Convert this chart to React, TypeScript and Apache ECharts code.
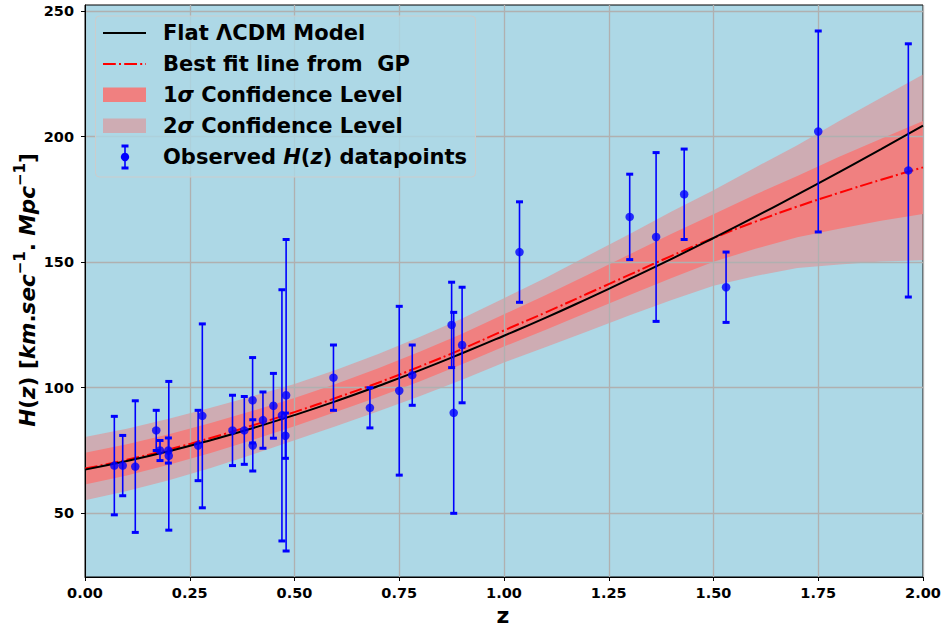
import React, { useEffect, useRef } from "react";
import * as echarts from "echarts";

// Observed H(z) datapoints: redshift, H(z), 1-sigma error
const obsZ = [0.07, 0.09, 0.12, 0.17, 0.179, 0.199, 0.2, 0.27, 0.28, 0.352, 0.3802, 0.4, 0.4004, 0.4247, 0.4497, 0.47, 0.4783, 0.48, 0.593, 0.68, 0.75, 0.781, 0.875, 0.88, 0.9, 1.037, 1.3, 1.363, 1.43, 1.53, 1.75, 1.965];
const obsH = [69, 69, 68.6, 83, 75, 75, 72.9, 77, 88.8, 83, 83, 95, 77, 87.1, 92.8, 89, 80.9, 97, 104, 92, 98.8, 105, 125, 90, 117, 154, 168, 160, 177, 140, 202, 186.5];
const obsErr = [19.6, 12, 26.2, 8, 4, 5, 29.6, 14, 36.6, 14, 13.5, 17, 10.2, 11.2, 12.9, 50, 9, 62, 13, 8, 33.6, 12, 17, 40, 23, 20, 17, 33.6, 18, 14, 40, 50.4];

// Curve sample grid (redshift)
const zGrid = [0, 0.1, 0.2, 0.3, 0.4, 0.5, 0.6, 0.7, 0.8, 0.9, 1.0, 1.1, 1.2, 1.3, 1.4, 1.5, 1.6, 1.7, 1.8, 1.9, 2.0];
// Flat LCDM model
const lcdmH = [67.4, 70.8, 74.7, 79.1, 83.9, 89.1, 94.7, 100.7, 107.0, 113.7, 120.7, 127.9, 135.5, 143.3, 151.3, 159.6, 168.1, 176.9, 185.8, 195.0, 204.3];
// GP best fit mean and 1-sigma width
const gpMean = [67.8, 71.3, 75.4, 80.0, 85.0, 90.3, 96.0, 102.0, 108.5, 115.4, 122.8, 130.0, 137.5, 145.0, 152.5, 159.6, 166.1, 172.1, 177.6, 182.8, 187.7];
const gpSigma = [6.3, 6.2, 6.1, 6.0, 5.8, 5.6, 5.6, 5.7, 5.9, 6.1, 6.4, 6.9, 7.5, 8.1, 8.8, 9.5, 10.8, 12.2, 14.3, 16.3, 18.5];

const xTicks = [0, 0.25, 0.5, 0.75, 1.0, 1.25, 1.5, 1.75, 2.0];
const yTicks = [50, 100, 150, 200, 250];

const FAM = "'DejaVu Sans'";
const BOLD_L = `bold 21px ${FAM}`;
const BOLDIT_L = `italic bold 21px ${FAM}`;

export default function App() {
  const ref = useRef<HTMLDivElement>(null);
  useEffect(() => {
    if (!ref.current) return;
    const chart = echarts.init(ref.current, null, { renderer: "svg" });

    const gpLine = zGrid.map((z, i) => [z, gpMean[i]]);
    const lcdmLine = zGrid.map((z, i) => [z, lcdmH[i]]);
    const obs = obsZ.map((z, i) => [z, obsH[i], obsErr[i]]);
    const pts = obsZ.map((z, i) => [z, obsH[i]]);

    const bandPoly = (api: any, k: number) => {
      const up = zGrid.map((z, i) => api.coord([z, gpMean[i] + k * gpSigma[i]]));
      const dn = zGrid.map((z, i) => api.coord([z, gpMean[i] - k * gpSigma[i]])).reverse();
      return up.concat(dn);
    };

    const rich = {
      n: { font: BOLD_L },
      i: { font: BOLDIT_L },
    };
    const legX = 163;
    const rows = [33, 64, 95, 126, 157];
    const legText = (text: string, y: number) => ({
      type: "text", x: legX, y, z: 101,
      style: { text, font: BOLD_L, fill: "#000", verticalAlign: "middle", rich },
    });

    const option: any = {
      animation: false,
      grid: {
        left: 85, right: 23, top: 5, bottom: 54,
        show: true, backgroundColor: "#add8e6", borderColor: "#000", borderWidth: 1,
      },
      xAxis: {
        type: "value", min: 0, max: 2, z: 3,
        axisLine: { show: true, onZero: false, lineStyle: { color: "#000", width: 1 } },
        axisTick: { show: true, length: 4, lineStyle: { color: "#000" }, customValues: xTicks },
        axisLabel: {
          customValues: xTicks, margin: 8, color: "#000", fontFamily: "DejaVu Sans", fontWeight: "bold", fontSize: 14.5,
          formatter: (v: number) => v.toFixed(2),
        },
        splitLine: { show: true, lineStyle: { color: "#b0b0b0", width: 1.3 } },
      },
      yAxis: {
        type: "value", min: 24.65, max: 252.35, z: 3,
        axisLine: { show: true, onZero: false, lineStyle: { color: "#000", width: 1 } },
        axisTick: { show: true, length: 4, lineStyle: { color: "#000" }, customValues: yTicks },
        axisLabel: {
          customValues: yTicks, margin: 11, color: "#000", fontFamily: "DejaVu Sans", fontWeight: "bold", fontSize: 14.5,
        },
        splitLine: { show: true, lineStyle: { color: "#b0b0b0", width: 1.3 } },
      },
      series: [
        {
          type: "custom", z: 1, data: [[0, 100]], encode: { x: 0, y: 1 }, silent: true,
          renderItem: (params: any, api: any) => ({
            type: "group",
            children: [
              { type: "polygon", shape: { points: bandPoly(api, 2) }, style: { fill: "rgba(240,128,128,0.5)" } },
              { type: "polygon", shape: { points: bandPoly(api, 1) }, style: { fill: "#f08080" } },
            ],
          }),
        },
        { type: "line", name: "Best fit line from  GP", data: gpLine, smooth: true, symbol: "none", z: 4,
          lineStyle: { color: "#ff0000", width: 2, type: [12.8, 3.2, 2, 3.2] } },
        { type: "line", name: "Flat ΛCDM Model", data: lcdmLine, smooth: true, symbol: "none", z: 5,
          lineStyle: { color: "#000000", width: 2 } },
        {
          type: "custom", z: 6, data: obs, encode: { x: 0, y: 1 },
          renderItem: (params: any, api: any) => {
            const x = api.value(0), y = api.value(1), e = api.value(2);
            const t = api.coord([x, y + e]);
            const b = api.coord([x, y - e]);
            const st = { fill: "#0000ff" };
            return {
              type: "group",
              children: [
                { type: "line", shape: { x1: t[0], y1: t[1], x2: b[0], y2: b[1] }, style: { stroke: "#0000ff", lineWidth: 1.6 } },
                { type: "rect", shape: { x: t[0] - 3.5, y: t[1] - 1.5, width: 7, height: 3 }, style: st },
                { type: "rect", shape: { x: b[0] - 3.5, y: b[1] - 1.5, width: 7, height: 3 }, style: st },
              ],
            };
          },
        },
        { type: "scatter", data: pts, symbol: "circle", symbolSize: 8.5, z: 7, itemStyle: { color: "#0000ff" } },
      ],
      graphic: [
        { type: "rect", z: 100, shape: { x: 95.5, y: 16, width: 380, height: 161, r: 4 },
          style: { fill: "rgba(173,216,230,0.8)", stroke: "#cccccc", lineWidth: 1 } },
        { type: "line", z: 101, shape: { x1: 103, y1: rows[0], x2: 146, y2: rows[0] }, style: { stroke: "#000", lineWidth: 2 } },
        { type: "line", z: 101, shape: { x1: 103, y1: rows[1], x2: 146, y2: rows[1] }, style: { stroke: "#ff0000", lineWidth: 2, lineDash: [12.8, 3.2, 2, 3.2] } },
        { type: "rect", z: 101, shape: { x: 103, y: rows[2] - 7.5, width: 43, height: 14.5 }, style: { fill: "#f08080" } },
        { type: "rect", z: 101, shape: { x: 103, y: rows[3] - 7.5, width: 43, height: 14.5 }, style: { fill: "rgba(240,128,128,0.5)" } },
        { type: "line", z: 101, shape: { x1: 125, y1: rows[4] - 11, x2: 125, y2: rows[4] + 11 }, style: { stroke: "#0000ff", lineWidth: 1.6 } },
        { type: "rect", z: 101, shape: { x: 121.5, y: rows[4] - 12.5, width: 7, height: 3 }, style: { fill: "#0000ff" } },
        { type: "rect", z: 101, shape: { x: 121.5, y: rows[4] + 9.5, width: 7, height: 3 }, style: { fill: "#0000ff" } },
        { type: "circle", z: 101, shape: { cx: 125, cy: rows[4], r: 4.2 }, style: { fill: "#0000ff" } },
        legText("{n|Flat ΛCDM Model}", rows[0]),
        legText("{n|Best fit line from  GP}", rows[1]),
        legText("{n|1}{i|σ}{n| Confidence Level}", rows[2]),
        legText("{n|2}{i|σ}{n| Confidence Level}", rows[3]),
        legText("{n|Observed }{i|H}{n|(}{i|z}{n|) datapoints}", rows[4]),
        { type: "text", x: 503, y: 615, z: 100, style: { text: "{n|z}", font: `bold 22px ${FAM}`, rich: { n: { font: `bold 22px ${FAM}` } }, fill: "#000", align: "center", verticalAlign: "middle" } },
        {
          type: "text", x: 27, y: 290, rotation: Math.PI / 2, z: 100,
          style: {
            text: "{i|H}{n|(}{i|z}{n|) [}{i|km}{n|.}{i|sec}{s|−1}{n|. }{i|Mpc}{s|−1}{n|]}",
            align: "center", verticalAlign: "middle", fill: "#000",
            rich: {
              n: { font: `bold 21.5px ${FAM}`, lineHeight: 30 },
              i: { font: `italic bold 21.5px ${FAM}`, lineHeight: 30 },
              s: { font: `bold 15px ${FAM}`, lineHeight: 15, verticalAlign: "top" },
            },
          },
        },
      ],
    };
    chart.setOption(option);
    return () => chart.dispose();
  }, []);
  return <div ref={ref} style={{ width: 946, height: 631, position: "absolute", left: 0, top: 0 }} />;
}
